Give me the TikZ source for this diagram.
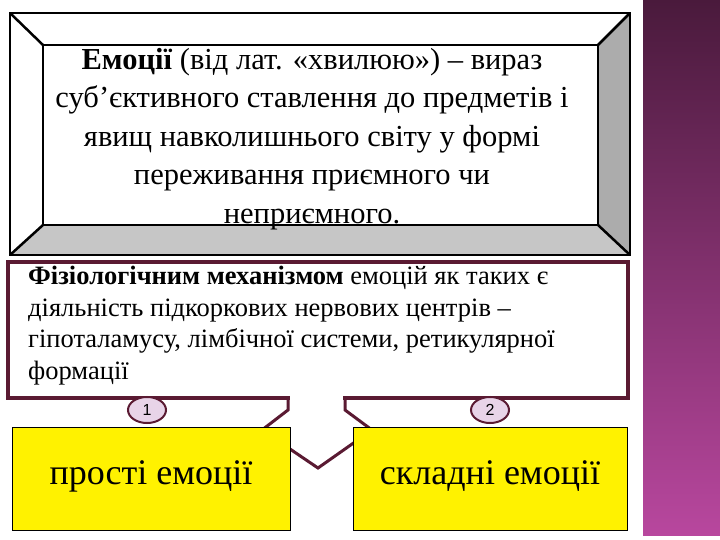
\documentclass[tikz,border=0pt]{standalone}
\usepackage{fontspec}
\usetikzlibrary{shapes.geometric}
\setmainfont{Liberation Serif}
\setsansfont{Liberation Sans}
\definecolor{maroon}{HTML}{5A1A32}
\definecolor{pinkc}{HTML}{E8D4E8}
\definecolor{stripTop}{HTML}{4A1A3C}
\definecolor{stripBot}{HTML}{B8479E}
\begin{document}
\begin{tikzpicture}[x=1pt,y=-1pt,
  bev/.style={draw=black,line width=2.5pt,line join=miter},
  yb/.style={draw=black,fill=yellow,line width=0.8pt},
  num/.style={ellipse,draw=maroon,fill=pinkc,line width=2pt,minimum width=38pt,minimum height=26pt,inner sep=0pt,font=\fontsize{16}{16}\sffamily\selectfont}]
\useasboundingbox (0,0) rectangle (720,540);
\fill[white] (0,0) rectangle (720,540);
\shade[top color=stripTop,bottom color=stripBot] (643,0) rectangle (720,535);
% bevel box
\fill[white] (10,13) rectangle (630,255);
\fill[gray!45] (10,255) -- (43,225) -- (598,225) -- (630,255) -- cycle;
\fill[gray!65] (598,45) -- (630,13) -- (630,255) -- (598,225) -- cycle;
\draw[bev] (10,13) rectangle (630,255);
\draw[bev] (43,45) rectangle (598,225);
\draw[bev] (10,13) -- (43,45) (630,13) -- (598,45) (10,255) -- (43,225) (630,255) -- (598,225);
\node[align=center,font=\fontsize{30.5}{38.5}\selectfont] (top) at (312,139)
 {\textbf{Емоції} (від лат. «хвилюю») – вираз\\суб'єктивного ставлення до предметів і\\явищ навколишнього світу у формі\\переживання приємного чи\\неприємного.};
% arrow
\draw[maroon,fill=white,line width=3pt,line join=miter] (288,390) -- (288,410) -- (262,430) -- (318,468) -- (372,430) -- (345,410) -- (345,390);
% middle box
\draw[maroon,fill=white,line width=4pt] (8,262) rectangle (628,398);
\node[anchor=north west,align=left,font=\fontsize{26.5}{31.5}\selectfont,inner sep=0pt] (mid) at (28,266)
 {\textbf{Фізіологічним механізмом} емоцій як таких є\\діяльність підкоркових нервових центрів –\\гіпоталамусу, лімбічної системи, ретикулярної\\формації};
\fill[white] (290,396) rectangle (343,402);
\node[num] (n1) at (147,410) {1};
\node[num] (n2) at (490,410) {2};
\node[yb,minimum width=278pt,minimum height=103pt,font=\fontsize{36}{36}\selectfont,text depth=12pt] (a) at (151,479) {прості емоції};
\node[yb,minimum width=274pt,minimum height=103pt,font=\fontsize{36}{36}\selectfont,text depth=12pt] (b) at (490,479) {складні емоції};
\end{tikzpicture}
\end{document}
